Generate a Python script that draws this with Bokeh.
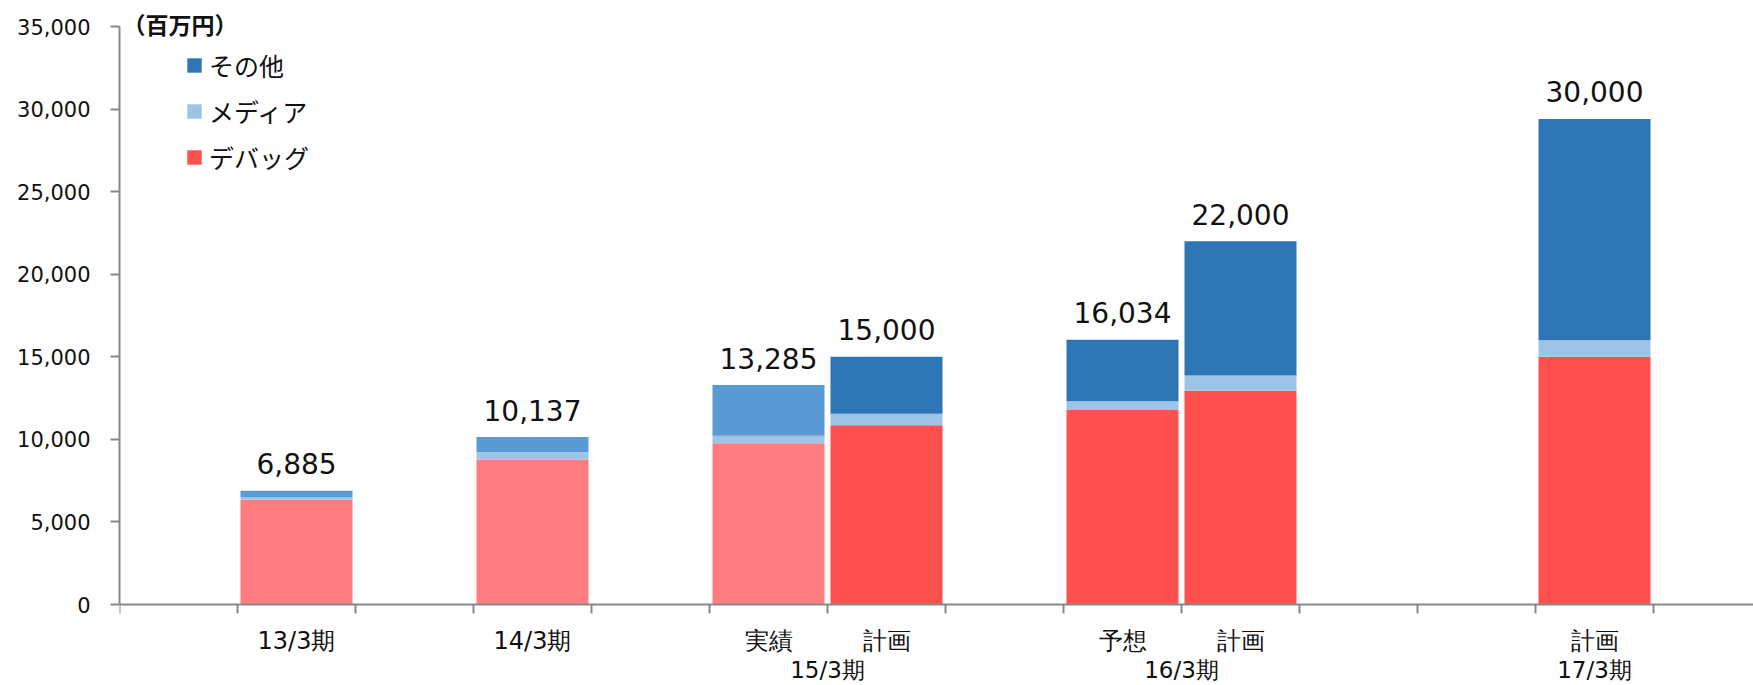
from bokeh.plotting import figure
from bokeh.models import (ColumnDataSource, Range1d, FixedTicker, LinearAxis,
                          NumeralTickFormatter, Legend, LegendItem, Label)
from bokeh.core.properties import value
from bokeh.embed import file_html
from bokeh.resources import INLINE

# ---------------- data ----------------
periods = ["13/3期", "14/3期", "15/3期", "15/3期", "16/3期", "16/3期", "17/3期"]
kinds = ["", "", "実績", "計画", "予想", "計画", "計画"]
debug = [6350, 8770, 9760, 10850, 11780, 12950, 15000]
media = [160, 445, 465, 700, 520, 920, 1000]
other = [375, 922, 3060, 3450, 3734, 8130, 13400]
total_labels = ["6,885", "10,137", "13,285", "15,000", "16,034", "22,000", "30,000"]
is_actual = [True, True, True, False, False, False, False]
series_names = ["その他", "メディア", "デバッグ"]
unit_label = "（百万円）"
y_ticks = [0, 5000, 10000, 15000, 20000, 25000, 30000, 35000]
y_axis_max = 35000

# ---------------- layout ----------------
slot_of_bar = [1, 3, 5, 6, 8, 9, 12]
n_slots_visible = 1634 / 118.0
xs = [s + 0.5 for s in slot_of_bar]
FRAME_TOP = 4
ZERO_PX = 604
PX_PER_MAX = 578.0
y_end = y_axis_max * (ZERO_PX - FRAME_TOP) / PX_PER_MAX
y_start = -y_axis_max * (685 - ZERO_PX) / PX_PER_MAX

col_debug = ["#FF7C80" if a else "#FF5050" for a in is_actual]
col_media = ["#9DC3E6" for a in is_actual]
col_other = ["#5B9BD5" if a else "#2E75B6" for a in is_actual]

b0 = [0] * len(debug)
t1 = [d for d in debug]
t2 = [d + m for d, m in zip(debug, media)]
t3 = [d + m + o for d, m, o in zip(debug, media, other)]

src = ColumnDataSource(dict(x=xs, b0=b0, t1=t1, t2=t2, t3=t3,
                            cd=col_debug, cm=col_media, co=col_other,
                            lab=total_labels))

p = figure(width=1753, height=685, x_range=Range1d(0, n_slots_visible),
           y_range=Range1d(y_start, y_end), output_backend="svg",
           toolbar_location=None, x_axis_location=None,
           min_border_left=119, min_border_right=0, min_border_top=FRAME_TOP,
           min_border_bottom=0)
p.outline_line_color = None
p.xgrid.visible = False
p.ygrid.visible = False
p.background_fill_color = "white"
p.border_fill_color = "white"

W = 112 / 118.0
r_debug = p.vbar(x="x", bottom="b0", top="t1", width=W, fill_color="cd",
                 line_color=None, source=src)
r_media = p.vbar(x="x", bottom="t1", top="t2", width=W, fill_color="cm",
                 line_color=None, source=src)
r_other = p.vbar(x="x", bottom="t2", top="t3", width=W, fill_color="co",
                 line_color=None, source=src)

p.text(x="x", y="t3", text="lab", source=src, text_align="center",
       text_baseline="alphabetic", y_offset=-27, text_font=value("DejaVu Sans"),
       text_font_size="28px", text_color="#111111")

AX = "#888888"
# y axis
ya = p.yaxis[0]
ya.bounds = (0, y_axis_max)
ya.ticker = FixedTicker(ticks=y_ticks)
ya.formatter = NumeralTickFormatter(format="0,0")
ya.axis_line_color = AX
ya.axis_line_width = 2
ya.major_tick_line_color = AX
ya.major_tick_line_width = 2
ya.major_tick_out = 9
ya.major_tick_in = 0
ya.minor_tick_line_color = None
ya.major_label_text_font = "DejaVu Sans"
ya.major_label_text_font_size = "21px"
ya.major_label_text_color = "#111111"
ya.major_label_standoff = 20

# x axis row 1 (line, boundary ticks, item labels) fixed at y = 0
row1_pos = xs
row1_lab = [k if k else per for k, per in zip(kinds, periods)]
xa = LinearAxis(fixed_location=0,
                ticker=FixedTicker(ticks=row1_pos, minor_ticks=list(range(0, 14))))
xa.major_label_overrides = {float(x): l for x, l in zip(row1_pos, row1_lab)}
xa.axis_line_color = AX
xa.axis_line_width = 2
xa.major_tick_line_color = None
xa.major_tick_out = 0
xa.major_tick_in = 0
xa.minor_tick_line_color = AX
xa.minor_tick_line_width = 2
xa.minor_tick_out = 9
xa.minor_tick_in = 0
xa.major_label_text_font = "DejaVu Sans"
xa.major_label_text_font_size = "24px"
xa.major_label_text_color = "#111111"
xa.major_label_standoff = 13
p.add_layout(xa, "below")

# x axis row 2 (group names)
groups = []
for per, k, x in zip(periods, kinds, xs):
    if k:
        if groups and groups[-1][0] == per:
            groups[-1][1].append(x)
        else:
            groups.append((per, [x]))
row2_pos = [sum(v) / len(v) for _, v in groups]
row2_lab = [g for g, _ in groups]
xa2 = LinearAxis(fixed_location=0, ticker=FixedTicker(ticks=row2_pos))
xa2.major_label_overrides = {float(x): l for x, l in zip(row2_pos, row2_lab)}
xa2.axis_line_color = None
xa2.major_tick_line_color = None
xa2.minor_tick_line_color = None
xa2.major_tick_out = 0
xa2.major_tick_in = 0
xa2.major_label_text_font = "DejaVu Sans"
xa2.major_label_text_font_size = "23px"
xa2.major_label_text_color = "#111111"
xa2.major_label_standoff = 52
p.add_layout(xa2, "below")

# legend
legend = Legend(items=[
    LegendItem(label=series_names[0], renderers=[r_other], index=6),
    LegendItem(label=series_names[1], renderers=[r_media], index=6),
    LegendItem(label=series_names[2], renderers=[r_debug], index=6),
], location=(66, 429 + (685 - ZERO_PX)))
legend.glyph_width = 18
legend.glyph_height = 18
legend.label_height = 24
legend.spacing = 10
legend.padding = 0
legend.margin = 0
legend.label_standoff = 6
legend.label_text_font = "Noto Sans CJK JP"
legend.label_text_font_size = "25px"
legend.label_text_color = "#111111"
legend.border_line_color = None
legend.background_fill_alpha = 0
p.add_layout(legend)

p.add_layout(Label(x=0, y=y_axis_max, x_offset=3, y_offset=3, text=unit_label,
                   text_font="Noto Sans CJK JP", text_font_size="23px",
                   text_font_style="bold",
                   text_baseline="middle", text_color="#111111"))

open("out.html", "w").write(file_html(p, INLINE))
